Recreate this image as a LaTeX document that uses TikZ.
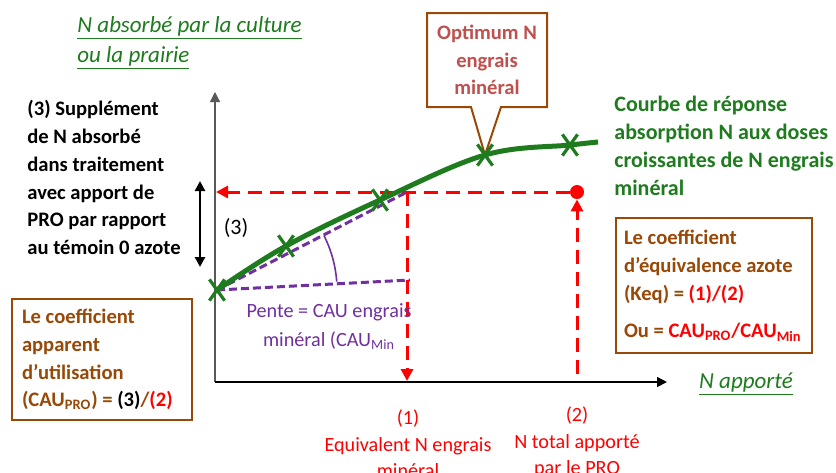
\documentclass[tikz,border=0pt]{standalone}
\usepackage{fontspec}
\setmainfont{Carlito}
\usetikzlibrary{arrows.meta,shapes.misc,shapes.callouts}

\definecolor{vert}{HTML}{1E7B1E}
\definecolor{brun}{HTML}{984807}
\definecolor{rose}{HTML}{C0504D}
\definecolor{violet}{HTML}{7030A0}
\newcommand{\taille}{\fontsize{10.3}{13.9}\selectfont}
\newcommand{\grand}{\fontsize{11}{14}\selectfont}
\newcommand{\petit}{\fontsize{10.1}{13.2}\selectfont}
\newcommand{\titre}{\fontsize{11.5}{15}\selectfont\itshape}

\tikzset{
  essai/.style={draw=vert, cross out, line width=1.6pt, minimum width=6pt, minimum height=9pt, inner sep=0pt},
  cadre/.style={draw=brun, line width=1pt, fill=white, text=brun, font=\taille\bfseries, align=flush left, inner xsep=5pt, inner ysep=5pt},
  tiret/.style={red, line width=1.5pt, dash pattern=on 7pt off 4pt},
  pente/.style={violet, line width=1.5pt, dash pattern=on 4pt off 2pt},
  fleche/.style={-{Triangle[length=6pt,width=6pt]}},
}

\begin{document}
\begin{tikzpicture}[x=0.5pt, y=-0.5pt, font=\taille]
		\useasboundingbox (0,0) rectangle (836,472);
		\fill[white] (0,0) rectangle (836,472);
		
		% Points of the response curve
		\coordinate (p1) at (217,290);
		\coordinate (p2) at (286,246);
		\coordinate (p3) at (380,200);
		\coordinate (p4) at (485,155);
		\coordinate (p5) at (570,145);
		\coordinate (pfin) at (598,142);
		
		% Draw the axes
		\coordinate (O) at (215,382);
		\coordinate (ytop) at (215,92);
		\coordinate (xend) at (667,382);
		\draw[gray!70!black, line width=0.6pt, -{Triangle[length=5pt,width=5pt]}] (O) -- (ytop);
		\draw[line width=0.8pt, -{Triangle[length=5pt,width=5pt]}] (O) -- (xend);
		
		% Optimum box
		\node[cadre, rectangle callout, callout absolute pointer={(p4)}, callout pointer width=15pt,
		      text=rose, align=flush center, text width=56pt, inner xsep=2pt, minimum height=47pt] (opt) at (487,60)
		  {Optimum N\\engrais\\minéral};
		
		% Red dashed projections
		\coordinate (e1) at (407,192);
		\coordinate (e1b) at (407,381);
		\coordinate (e2b) at (577,374);
		\coordinate (ys) at (216,192);
		\node[circle, fill=red, minimum size=7pt, inner sep=0pt] (pro) at (577,192) {};
		\draw[tiret, fleche] (pro.west) -- (ys);
		\draw[tiret, fleche] (e1) -- (e1b);
		\draw[tiret, fleche] (e2b) -- (pro.south);
		
		% Slope of the mineral fertiliser
		\coordinate (h1) at (410,280);
		\draw[pente] (p1) -- (e1);
		\draw[pente] (p1) -- (h1);
		\draw[violet, line width=0.8pt] (p1) ++(-4:120) arc[start angle=-4, end angle=-27, radius=120];
		
		% Response curve and trials
		\draw[vert, line width=2.5pt] plot[smooth, tension=0.6] coordinates {(p1) (p2) (p3) (p4) (p5) (pfin)};
		\foreach \i in {1,...,5}
		\node[essai] (m\i) at (p\i) {};
		
		% Supplement of N absorbed
		\coordinate (s3a) at (200,181);
		\coordinate (s3b) at (200,267);
		\draw[line width=1.3pt, {Triangle[length=5pt,width=5pt]}-{Triangle[length=5pt,width=5pt]}] (s3a) -- (s3b);
		\node[font=\grand] (n3) at (236,228) {(3)};
		\node[anchor=north west, inner sep=0pt, align=flush left, font=\taille\bfseries] (supp) at (27,100)
		  {(3) Supplément\\de N absorbé\\dans traitement\\avec apport de\\PRO par rapport\\au témoin 0 azote};
		
		% Axis titles
		\node[anchor=north west, inner sep=0pt, align=flush left, text=vert, font=\titre] (ytitre) at (77,16)
		  {\underline{N absorbé par la culture}\\\underline{ou la prairie}};
		\node[text=vert, font=\titre] (xtitre) at (746,384) {\underline{N apporté}};
		
		% Curve label
		\node[anchor=north west, inner sep=0pt, align=flush left, text=vert, font=\grand\bfseries] (courbe) at (614,96)
		  {Courbe de réponse\\absorption N aux doses\\croissantes de N engrais\\minéral};
		
		% Slope label
		\node[align=flush center, text=violet, font=\fontsize{10.1}{14.5}\selectfont] (pente) at (329,327)
		  {Pente = CAU engrais\\minéral (CAU\textsubscript{Min}};
		
		% Coefficient boxes
		\node[cadre, anchor=north west, text width=80pt, minimum height=60.5pt] (cau) at (11,298)
		  {Le coefficient\\apparent\\d’utilisation\\(CAU\textsubscript{PRO}) = {\color{black}(3)}/{\color{red}(2)}};
		\node[cadre, anchor=north west, text width=90pt, inner xsep=4pt, minimum height=67.5pt] (keq) at (615,217)
		  {Le coefficient\\d’équivalence azote\\(Keq) = {\color{red}(1)/(2)}\\[5pt]Ou = {\color{red}CAU\textsubscript{PRO}/CAU\textsubscript{Min}}};
		
		% Labels under the x axis
		\node[anchor=north, align=flush center, text=red, font=\petit] (l1) at (408,403) {(1)\\Equivalent N engrais\\minéral};
		\node[anchor=north, align=flush center, text=red, font=\petit] (l2) at (577,400) {(2)\\N total apporté\\par le PRO};
	\end{tikzpicture}
\end{document}
